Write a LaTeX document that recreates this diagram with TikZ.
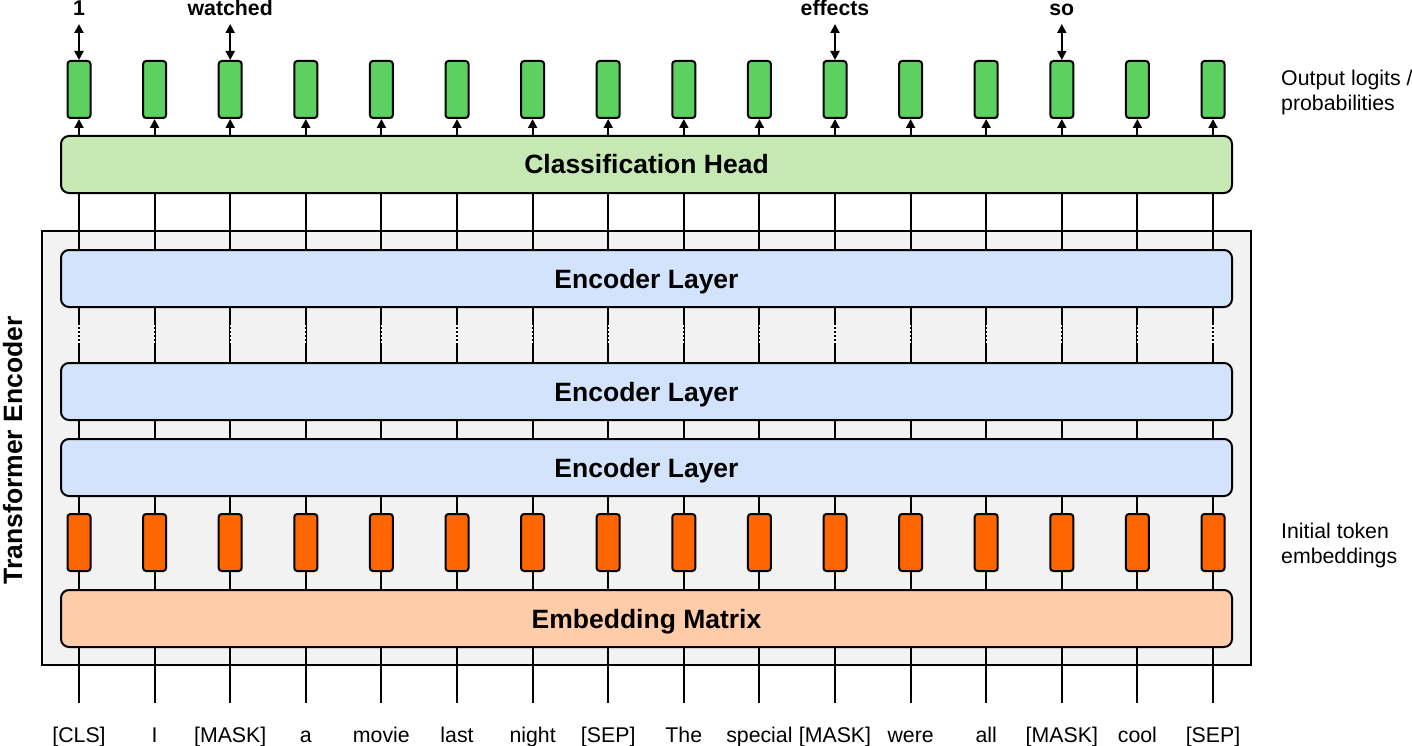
\documentclass[tikz,border=0pt]{standalone}
\usepackage{fontspec}
\setmainfont{Liberation Sans}
\usetikzlibrary{arrows.meta}

\definecolor{headgreen}{HTML}{C6E8B3} % classification head
\definecolor{outgreen}{HTML}{5CD15F}  % output vectors
\definecolor{embfill}{HTML}{FFCCA9}   % embedding matrix
\definecolor{tokorange}{HTML}{FF6600} % token embeddings
\definecolor{encblue}{HTML}{D4E3FC}   % encoder layers
\definecolor{encgray}{HTML}{F2F2F2}   % encoder frame

\tikzset{
    bigfont/.style = {font = \fontsize{26.5}{30}\selectfont\bfseries},
    smallfont/.style = {font = \fontsize{21.3}{25}\selectfont},
    layerbox/.style = {draw, line width = 2pt, rounded corners = 8pt, inner sep = 0pt,
        minimum width = 1171pt, minimum height = 57pt, text height = 19pt, text depth = 0pt, bigfont},
    vecbox/.style = {draw, line width = 2pt, rounded corners = 3pt, inner sep = 0pt,
        minimum width = 23pt, minimum height = 57pt},
    wire/.style = {line width = 2pt},
    upwire/.style = {wire, -{Triangle[length = 9pt, width = 9pt]}},
    bothwire/.style = {wire, {Triangle[length = 9pt, width = 9pt]}-{Triangle[length = 9pt, width = 9pt]}},
    gapdots/.style = {white, line width = 1.2pt, dash pattern = on 2pt off 2pt}
}

\begin{document}
\begin{tikzpicture}[x = 1pt, y = -1pt]
    \useasboundingbox (0, 0) rectangle (1412, 746);

    % Encoder frame
    \node[draw, line width = 2pt, fill = encgray, inner sep = 0pt,
        minimum width = 1209pt, minimum height = 434pt] (frame) at (646.5, 448) {};
    \node[bigfont, rotate = 90, anchor = base, inner sep = 0pt] (framelbl) at (22, 450.5) {Transformer Encoder};

    % Wide boxes
    \node[layerbox, fill = headgreen] (head) at (646.5, 164.5) {Classification Head};
    \node[layerbox, fill = encblue] (encC) at (646.5, 278.5) {Encoder Layer};
    \node[layerbox, fill = encblue] (encB) at (646.5, 391.5) {Encoder Layer};
    \node[layerbox, fill = encblue] (encA) at (646.5, 467.5) {Encoder Layer};
    \node[layerbox, fill = embfill] (embm) at (646.5, 618.5) {Embedding Matrix};

    % Columns: input word -> token vector -> layers -> output vector
    \foreach \w [count = \i from 0] in {{[CLS]}, I, {[MASK]}, a, movie, last, night, {[SEP]},
            The, special, {[MASK]}, were, all, {[MASK]}, cool, {[SEP]}} {
        \pgfmathsetmacro\x{79 + 75.6*\i}
        \coordinate (in\i) at (\x, 703);
        \node[smallfont, anchor = base, inner sep = 0pt] (word\i) at (\x, 742) {\w};
        \node[vecbox, fill = tokorange] (tok\i) at (\x, 542.5) {};
        \node[vecbox, fill = outgreen] (out\i) at (\x, 89.5) {};

        \draw[wire] (in\i) -- (in\i |- embm.south);
        \draw[wire] (in\i |- embm.north) -- (tok\i.south);
        \draw[wire] (tok\i.north) -- (in\i |- encA.south);
        \draw[wire] (in\i |- encA.north) -- (in\i |- encB.south);
        \draw[wire] (in\i |- encB.north) -- (in\i |- encC.south);
        \draw[gapdots] (\x, 325) -- (\x, 344); % skipped layers
        \draw[wire] (in\i |- encC.north) -- (in\i |- head.south);
        \draw[upwire] (in\i |- head.north) -- (out\i.south);
    }

    % Predicted words
    \foreach \i/\w in {0/1, 2/watched, 10/effects, 13/so} {
        \node[font = \fontsize{21.3}{25}\selectfont\bfseries, anchor = base, inner sep = 0pt]
            (pred\i) at (out\i |- 0, 16) {\w};
        \coordinate (predtip\i) at (out\i |- 0, 24);
        \draw[bothwire] (predtip\i) -- (out\i.north);
    }

    % Side notes
    \node[smallfont, align = left, anchor = north west, inner sep = 0pt] (outnote) at (1281, 70)
        {Output logits /\\probabilities};
    \node[smallfont, align = left, anchor = north west, inner sep = 0pt] (tokNote) at (1281, 522.5)
        {Initial token\\embeddings};
\end{tikzpicture}
\end{document}
